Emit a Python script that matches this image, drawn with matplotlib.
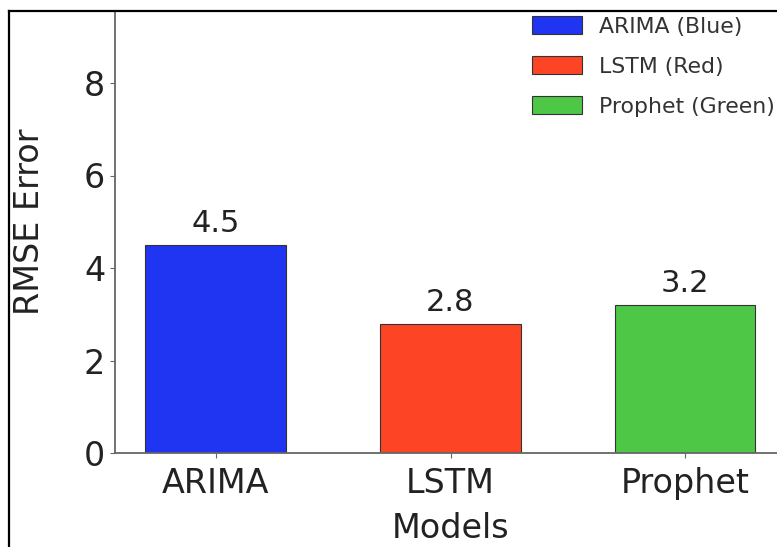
import matplotlib
matplotlib.use("Agg")
import matplotlib.pyplot as plt
from matplotlib.lines import Line2D
from matplotlib.patches import Rectangle

# data
models = ["ARIMA", "LSTM", "Prophet"]
rmse = [4.5, 2.8, 3.2]
legend_labels = ["ARIMA (Blue)", "LSTM (Red)", "Prophet (Green)"]
colors = ["#1f35f2", "#fd4526", "#4fc746"]

plt.rcParams['font.family'] = 'DejaVu Sans'

W, H = 777, 547
fig = plt.figure(figsize=(W / 100, H / 100), dpi=100)

# axes is partly outside the figure (the original picture was cropped)
ax = fig.add_axes([115 / W, 94 / H, 671 / W, 462.5 / H])

bars = ax.bar(models, rmse, width=0.6, color=colors, edgecolor="#333333",
              linewidth=0.8, label=legend_labels)
ax.bar_label(bars, labels=[str(v) for v in rmse], padding=5, fontsize=22,
             color="#222222")

ax.set_ylim(0, 10)
ax.set_xlim(-0.43, 2.43)
ax.set_yticks([0, 2, 4, 6, 8])
ax.tick_params(axis="both", labelsize=24, colors="#666666", labelcolor="#222222")
ax.tick_params(axis="x", pad=6.5)
for s in ["left", "bottom"]:
    ax.spines[s].set_color("#666666")
    ax.spines[s].set_linewidth(1.3)
ax.spines["top"].set_visible(False)
ax.spines["right"].set_visible(False)

ax.set_xlabel("Models", fontsize=24, color="#222222", labelpad=9)
ax.set_ylabel("RMSE Error", fontsize=24, color="#222222")
ax.yaxis.set_label_coords((46 - 115) / 671, 0.5)

ax.legend(loc="upper left", bbox_to_anchor=(532 / W, 1 - 16 / H),
          bbox_transform=fig.transFigure, frameon=False, fontsize=15.8,
          borderpad=0, borderaxespad=0, handlelength=2.3, handleheight=0.9,
          handletextpad=0.75, labelspacing=0.88, labelcolor="#333333")

# white strip above the frame line and the frame itself
fig.add_artist(Rectangle((0, 1 - 11 / H), 1, 11 / H, transform=fig.transFigure,
                         facecolor="white", edgecolor="none", zorder=5))
fig.add_artist(Line2D([9 / W, 1], [1 - 11 / H, 1 - 11 / H], color="black",
                      linewidth=1.6, transform=fig.transFigure, zorder=6))
fig.add_artist(Line2D([9 / W, 9 / W], [0, 1 - 11 / H], color="black",
                      linewidth=1.6, transform=fig.transFigure, zorder=6))

fig.savefig("out.png", dpi=100)
